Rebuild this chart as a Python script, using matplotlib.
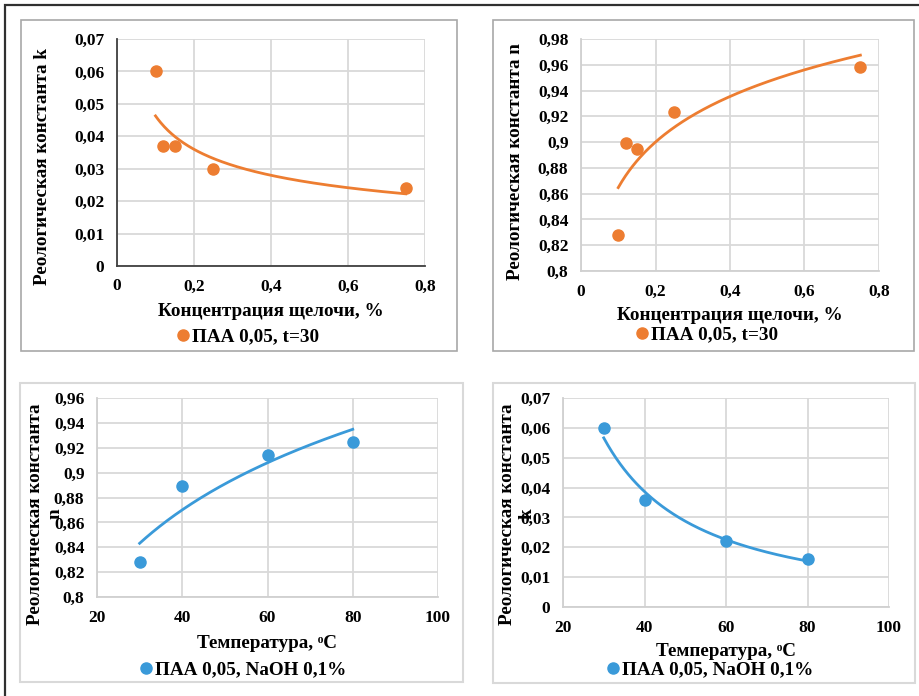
import numpy as np
import matplotlib
matplotlib.use("Agg")
import matplotlib.pyplot as plt
from matplotlib.patches import Rectangle

plt.rcParams['font.family'] = ['Liberation Serif', 'DejaVu Serif']
plt.rcParams['font.weight'] = 'bold'

# ---------------- data ----------------
alkali_conc = [0.10, 0.12, 0.15, 0.25, 0.75]
k_vs_alkali = [0.060, 0.037, 0.037, 0.030, 0.024]
n_vs_alkali = [0.828, 0.899, 0.895, 0.923, 0.958]

temperature = [30, 40, 60, 80]
n_vs_temp = [0.828, 0.889, 0.914, 0.925]
k_vs_temp = [0.060, 0.036, 0.022, 0.016]

label_alkali = "ПАА 0,05, t=30"
label_temp = "ПАА 0,05, NaOH 0,1%"
xlabel_alkali = "Концентрация щелочи, %"
xlabel_temp = "Температура, \u1d52C"
ylabel_k = "Реологическая константа k"
ylabel_n = "Реологическая константа n"

ORANGE = '#ED7D31'
BLUE = '#3A9AD9'

W, H = 919, 696
fig = plt.figure(figsize=(W / 100, H / 100), dpi=100)


def fbox(x0, y0, x1, y1):
    return [x0 / W, 1 - y1 / H, (x1 - x0) / W, (y1 - y0) / H]


def rect(x0, y0, x1, y1, color, lw):
    r = Rectangle((x0 / W, 1 - y1 / H), (x1 - x0) / W, (y1 - y0) / H,
                  transform=fig.transFigure, fill=False, edgecolor=color,
                  linewidth=lw)
    fig.patches.append(r)


# outer border and panel frames
rect(5, 5, 925, 705, '#303030', 1.6)
rect(21, 20, 457, 351, '#a8a8a8', 1.2)
rect(493, 20, 914, 351, '#a8a8a8', 1.2)
rect(20, 383, 463, 682, '#d9d9d9', 1.5)
rect(493, 383, 915, 683, '#d9d9d9', 1.5)


def fmt(v, nd):
    s = f"{v:.{nd}f}"
    if '.' in s:
        s = s.rstrip('0').rstrip('.')
    return s.replace('.', ',')


def trend_power(x, y):
    b, la = np.polyfit(np.log(x), np.log(y), 1)
    xs = np.linspace(min(x), max(x), 200)
    return xs, np.exp(la) * xs ** b


def trend_log(x, y):
    b, a = np.polyfit(np.log(x), y, 1)
    xs = np.linspace(min(x), max(x), 200)
    return xs, a + b * np.log(xs)


def panel(box, x, y, trend, color, xlim, xticks, xnd, ylim, yticks, ynd,
          spine_col, label):
    ax = fig.add_axes(fbox(*box))
    xs, ys = trend(x, y)
    ax.plot(xs, ys, color=color, lw=2.0, zorder=3)
    ax.plot(x, y, 'o', color=color, ms=8, lw=0, zorder=4, label=label)
    ax.set_xlim(*xlim)
    ax.set_ylim(*ylim)
    ax.set_xticks(xticks)
    ax.set_yticks(yticks)
    ax.set_xticklabels([fmt(v, xnd) for v in xticks])
    ax.set_yticklabels([fmt(v, ynd) for v in yticks])
    ax.grid(True, color='#d9d9d9', lw=1.3)
    ax.set_axisbelow(True)
    for s in ['top', 'right']:
        ax.spines[s].set_visible(False)
    for s in ['left', 'bottom']:
        ax.spines[s].set_color(spine_col)
        ax.spines[s].set_linewidth(1.3)
    ax.tick_params(length=0, labelsize=12.5, pad=9)
    for t in ax.get_xticklabels() + ax.get_yticklabels():
        t.set_fontweight('bold')
    return ax


ax1 = panel((117, 39, 425, 266), alkali_conc, k_vs_alkali, trend_power, ORANGE,
            (0, 0.8), [0, 0.2, 0.4, 0.6, 0.8], 1,
            (0, 0.07), [0, 0.01, 0.02, 0.03, 0.04, 0.05, 0.06, 0.07], 2,
            '#404040', label_alkali)
ax2 = panel((581, 39, 879, 271), alkali_conc, n_vs_alkali, trend_log, ORANGE,
            (0, 0.8), [0, 0.2, 0.4, 0.6, 0.8], 1,
            (0.8, 0.98), [0.80, 0.82, 0.84, 0.86, 0.88, 0.90, 0.92, 0.94, 0.96, 0.98], 2,
            '#d0d0d0', label_alkali)
ax3 = panel((97, 398, 438, 597), temperature, n_vs_temp, trend_log, BLUE,
            (20, 100), [20, 40, 60, 80, 100], 0,
            (0.8, 0.96), [0.80, 0.82, 0.84, 0.86, 0.88, 0.90, 0.92, 0.94, 0.96], 2,
            '#d0d0d0', label_temp)
ax4 = panel((563, 398, 889, 607), temperature, k_vs_temp, trend_power, BLUE,
            (20, 100), [20, 40, 60, 80, 100], 0,
            (0, 0.07), [0, 0.01, 0.02, 0.03, 0.04, 0.05, 0.06, 0.07], 2,
            '#d0d0d0', label_temp)

FS = 13.8


def ftext(x, y, s, **kw):
    fig.text(x / W, 1 - y / H, s, fontsize=FS, fontweight='bold',
             ha='center', va='center', **kw)


# x labels
ftext(271, 312, xlabel_alkali)
ftext(730, 315, xlabel_alkali)
ftext(267, 643, xlabel_temp)
ftext(726, 652, xlabel_temp)

# y labels
ftext(43, 167, ylabel_k, rotation=90)
ftext(516, 162, ylabel_n, rotation=90)
ftext(45, 514, ylabel_n.replace(' n', '\nn'), rotation=90, linespacing=1.2)
ftext(517, 514, ylabel_k.replace(' k', '\nk'), rotation=90, linespacing=1.2)


def legend(ax, cx, cy):
    leg = ax.legend(loc='center', bbox_to_anchor=(cx / W, 1 - cy / H),
                    bbox_transform=fig.transFigure, frameon=False,
                    handletextpad=0.1, handlelength=0.7, borderpad=0,
                    prop={'size': FS, 'weight': 'bold'})
    return leg


legend(ax1, 248, 337)
legend(ax2, 707, 335)
legend(ax3, 243, 670)
legend(ax4, 710, 670)

fig.savefig('out.png', dpi=100)
